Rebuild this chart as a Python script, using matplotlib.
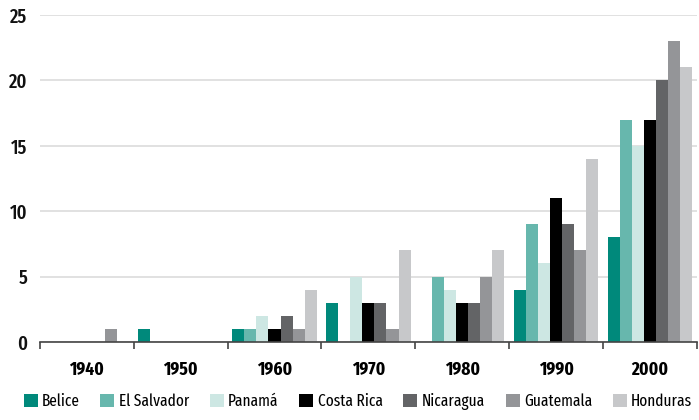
import matplotlib
matplotlib.use("Agg")
import matplotlib.pyplot as plt
import numpy as np
from matplotlib.patches import Patch

plt.rcParams['font.family'] = ['Fira Sans Extra Condensed', 'DejaVu Sans']

decades = ["1940", "1950", "1960", "1970", "1980", "1990", "2000"]
countries = ["Belice", "El Salvador", "Panamá", "Costa Rica", "Nicaragua", "Guatemala", "Honduras"]
belice      = [0, 1, 1, 3, 0, 4, 8]
el_salvador = [0, 0, 1, 0, 5, 9, 17]
panama      = [0, 0, 2, 5, 4, 6, 15]
costa_rica  = [0, 0, 1, 3, 3, 11, 17]
nicaragua   = [0, 0, 2, 3, 3, 9, 20]
guatemala   = [1, 0, 1, 1, 5, 7, 23]
honduras    = [0, 0, 4, 7, 7, 14, 21]
series = [belice, el_salvador, panama, costa_rica, nicaragua, guatemala, honduras]
colors = ["#00897b", "#67b7ad", "#cde7e3", "#000000", "#636466", "#949598", "#c7c8ca"]

fig = plt.figure(figsize=(6.99, 4.2), dpi=100)
ax = fig.add_axes([0.057, 0.186, 0.940, 0.778])

x = np.arange(len(decades))
n = len(series)
bw = 0.9 / n
for i, (vals, c) in enumerate(zip(series, colors)):
    ax.bar(x - 0.45 + bw * (i + 0.5), vals, width=bw, color=c, linewidth=0, zorder=3)

ax.set_xlim(-0.5, len(decades) - 0.5)
ax.set_ylim(0, 25)
ax.set_yticks([0, 5, 10, 15, 20, 25])
ax.yaxis.grid(True, color="#dcdcdc", linewidth=1.2, zorder=0)
ax.set_axisbelow(True)
for s in ["top", "right", "left"]:
    ax.spines[s].set_visible(False)
ax.spines["bottom"].set_color("#444444")
ax.spines["bottom"].set_linewidth(1.2)
ax.spines["bottom"].set_zorder(4)
ax.tick_params(axis="y", length=0, labelsize=14.5, pad=9, labelcolor="#111111")
for lab in ax.get_yticklabels():
    lab.set_fontweight("medium")
ax.set_xticks(x)
ax.set_xticklabels(decades, fontweight="bold", fontsize=13.5)
ax.tick_params(axis="x", which="major", length=0, pad=14)
ax.set_xticks(np.arange(-0.5, len(decades)), minor=True)
ax.tick_params(axis="x", which="minor", length=5, width=1.2, color="#444444")

handles = [Patch(facecolor=c, edgecolor="none") for c in colors]
fig.legend(handles, countries, loc="lower center", bbox_to_anchor=(0.512, -0.012), ncol=7, frameon=False,
           fontsize=12, handlelength=0.84, handleheight=0.84, handletextpad=0.25, columnspacing=1.25)

fig.savefig("out.png", dpi=100)
